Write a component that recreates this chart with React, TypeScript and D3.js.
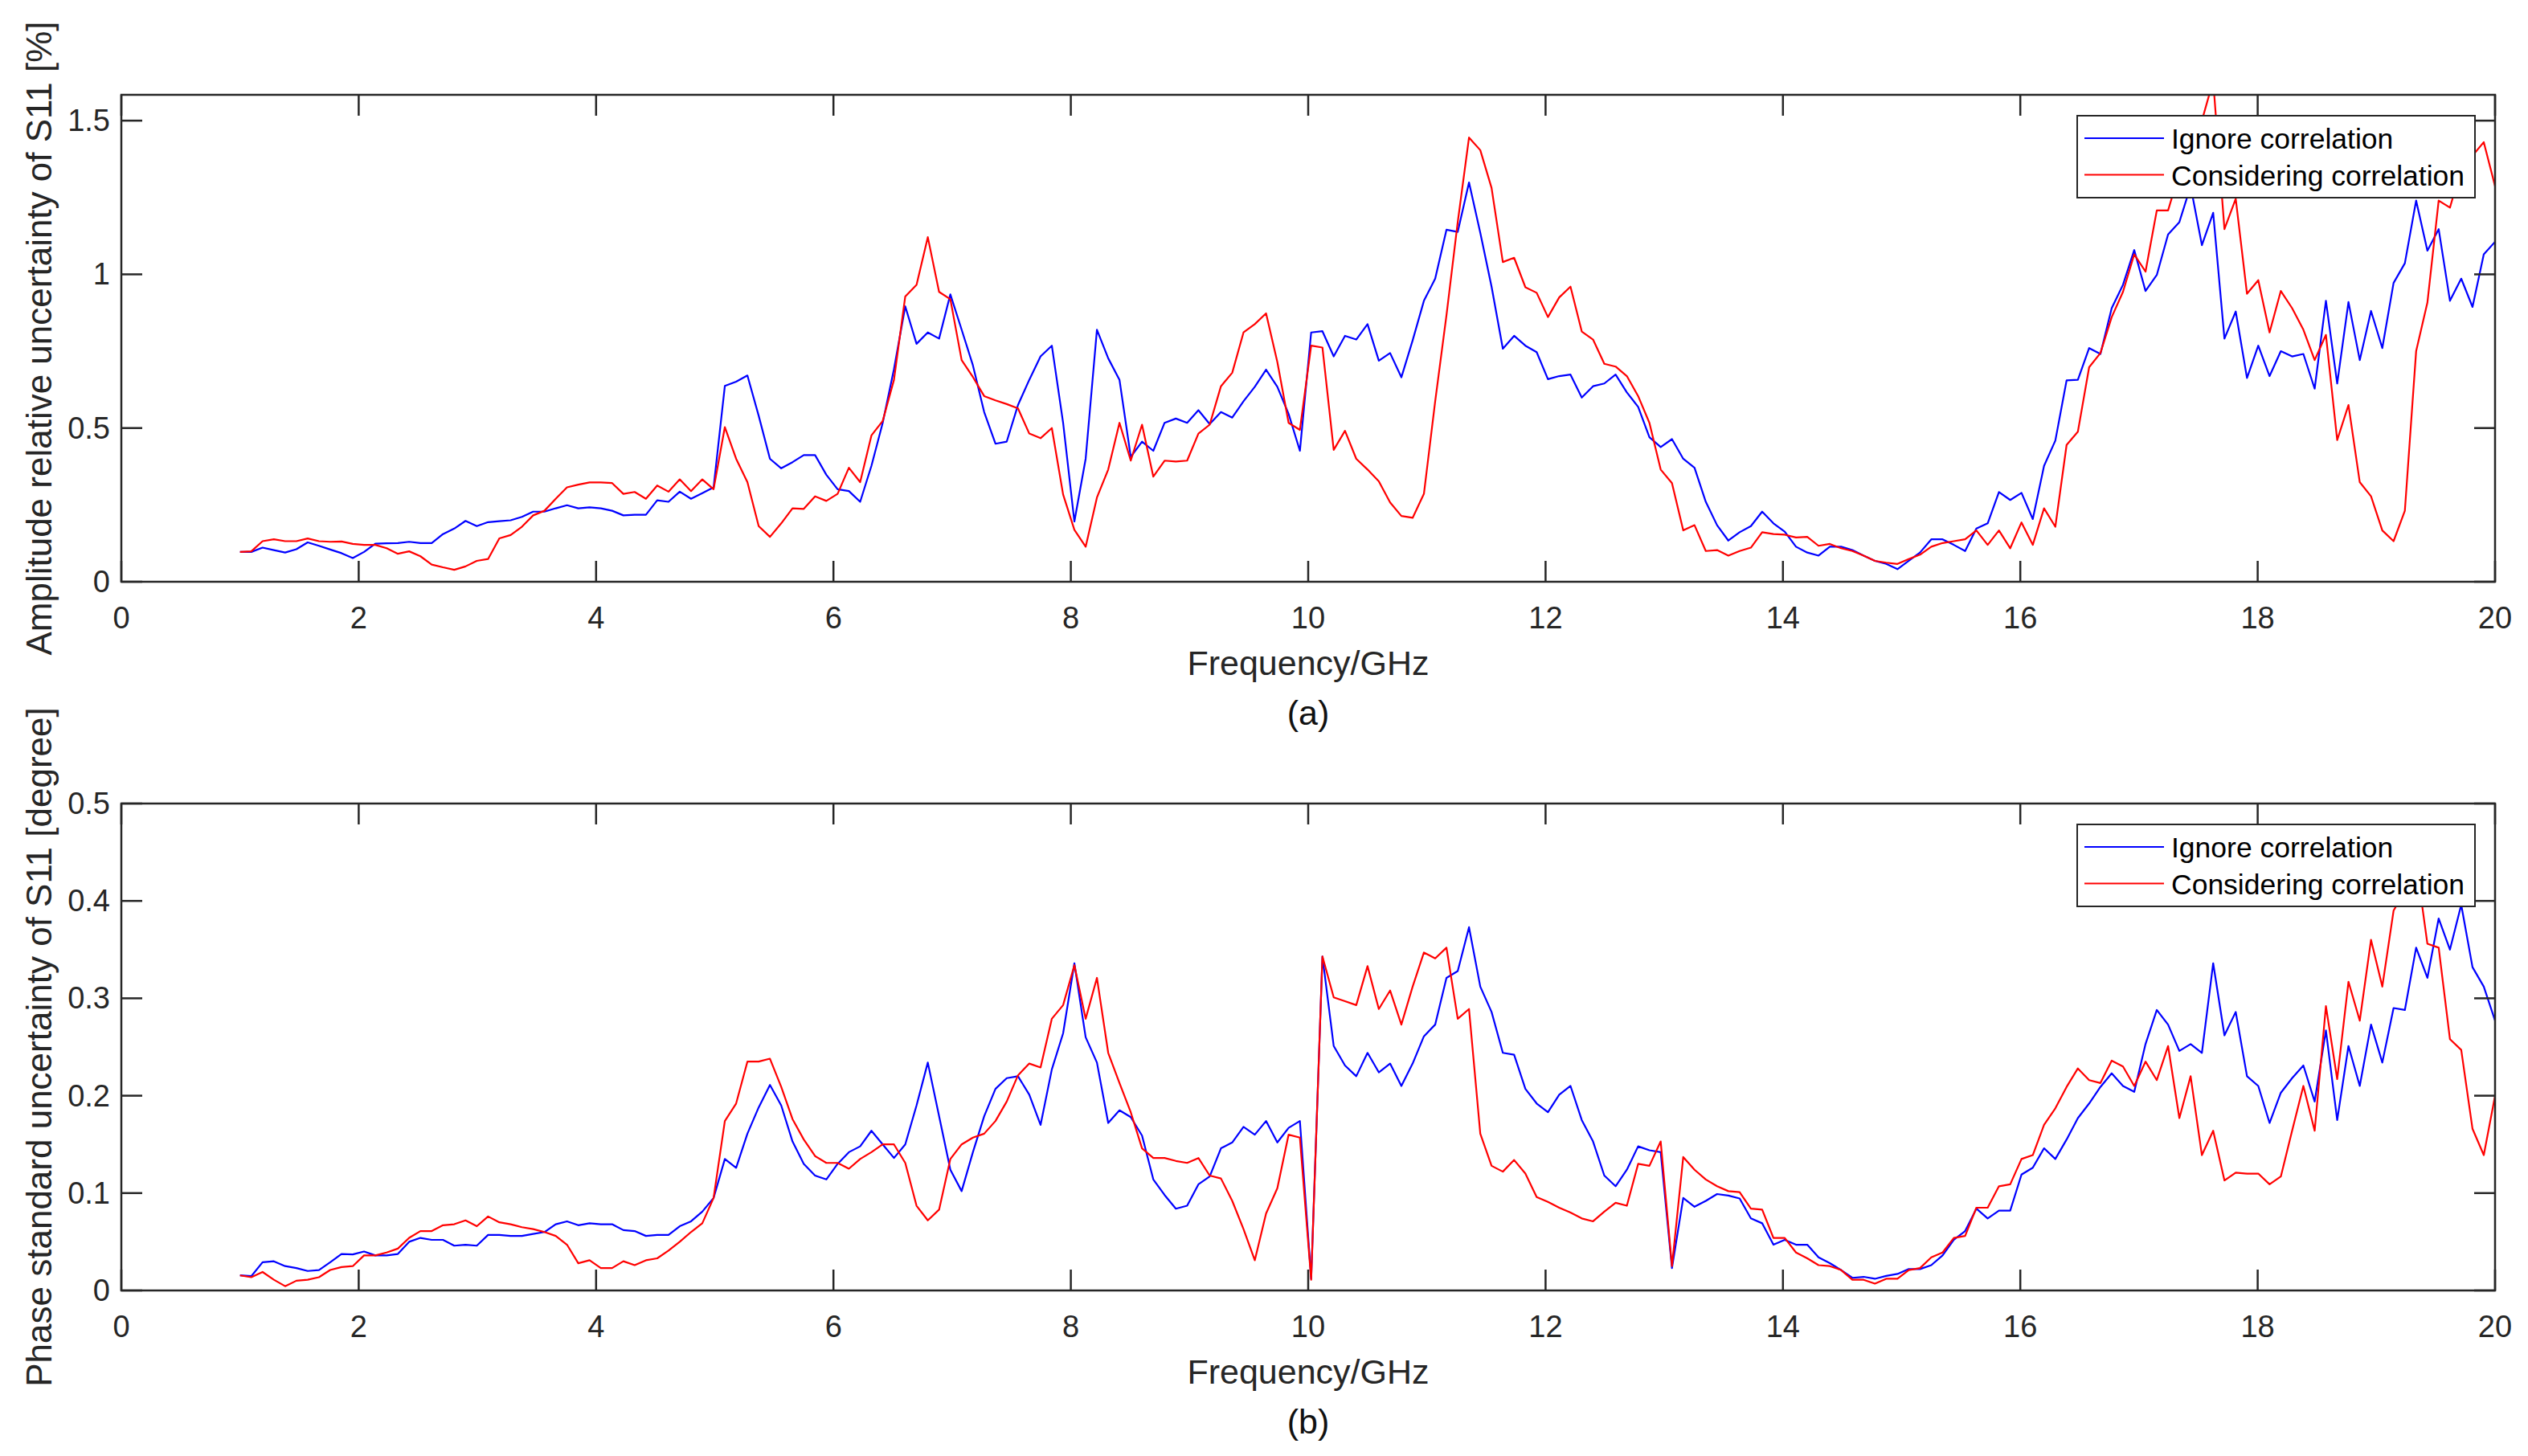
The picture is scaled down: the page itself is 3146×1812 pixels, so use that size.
// @ts-nocheck
import * as d3 from "d3"
import { useEffect, useRef } from "react"
import * as React from "react"

// frequency sweep: 201 points from 1 to 20 GHz
const freq = d3.range(201).map(i => 1 + i * 0.095)

const xTicks = [0, 2, 4, 6, 8, 10, 12, 14, 16, 18, 20]
const ampTicks = [0, 0.5, 1, 1.5]
const phaseTicks = [0, 0.1, 0.2, 0.3, 0.4, 0.5]
const legendNames = ["Ignore correlation", "Considering correlation"]

// (a) amplitude relative uncertainty of S11 [%]
const ampIgnore = [
  .097, .097, .111, .103, .095, .106, .128, .117, .105, .093,
  .077, .097, .124, .125, .126, .13, .126, .126, .155, .173,
  .198, .181, .194, .197, .2, .211, .228, .228, .239, .249,
  .239, .242, .239, .231, .216, .218, .218, .265, .26, .293,
  .27, .288, .307, .637, .651, .671, .54, .40, .369, .389,
  .412, .412, .348, .301, .295, .26, .377, .517, .692, .896,
  .774, .811, .791, .935, .82, .704, .552, .449, .456, .575,
  .657, .733, .768, .517, .196, .40, .82, .727, .657, .406,
  .456, .426, .517, .531, .517, .558, .513, .552, .534, .587,
  .634, .69, .634, .546, .426, .811, .815, .733, .80, .788,
  .838, .719, .744, .665, .785, .914, .986, 1.145, 1.138, 1.299,
  1.135, .96, .758, .80, .768, .747, .659, .669, .674, .599,
  .636, .645, .674, .616, .569, .47, .438, .464, .40, .371,
  .26, .184, .134, .161, .181, .228, .19, .163, .114, .095,
  .085, .114, .114, .103, .085, .068, .058, .041, .068, .095,
  .138, .138, .12, .10, .173, .19, .292, .266, .289, .204,
  .377, .459, .655, .657, .76, .741, .89, .966, 1.079, .946,
  .998, 1.13, 1.17, 1.287, 1.095, 1.2, .791, .879, .663, .768,
  .669, .75, .733, .741, .628, .914, .645, .91, .721, .881,
  .76, .972, 1.036, 1.24, 1.077, 1.147, .914, .986, .894, 1.065, 1.106
]
const ampConsider = [
  .097, .099, .132, .138, .132, .132, .141, .132, .13, .131,
  .123, .12, .12, .109, .091, .099, .083, .056, .047, .039,
  .05, .068, .074, .141, .152, .179, .216, .231, .27, .307,
  .316, .323, .323, .321, .286, .292, .27, .313, .293, .333,
  .295, .333, .301, .503, .40, .324, .181, .146, .19, .239,
  .237, .278, .263, .286, .371, .324, .476, .523, .657, .928,
  .966, 1.121, .943, .919, .721, .666, .604, .59, .578, .564,
  .482, .467, .50, .284, .169, .114, .274, .365, .517, .394,
  .511, .342, .394, .391, .394, .482, .511, .636, .68, .811,
  .838, .873, .715, .517, .494, .768, .762, .429, .491, .40,
  .365, .327, .258, .214, .208, .286, .587, .867, 1.17, 1.445,
  1.404, 1.281, 1.04, 1.054, .958, .94, .861, .925, .96, .814,
  .788, .709, .70, .669, .604, .517, .365, .321, .167, .184,
  .10, .103, .085, .10, .111, .161, .155, .153, .144, .146,
  .117, .123, .109, .10, .085, .068, .062, .058, .074, .088,
  .114, .126, .132, .138, .167, .12, .167, .109, .193, .12,
  .239, .179, .445, .488, .698, .744, .861, .943, 1.065, 1.009,
  1.208, 1.208, 1.33, 1.42, 1.50, 1.63, 1.147, 1.246, .937, .981,
  .811, .946, .89, .82, .721, .803, .461, .575, .324, .278,
  .167, .132, .231, .75, .908, 1.24, 1.217, 1.345, 1.386, 1.43, 1.287
]

// (b) phase standard uncertainty of S11 [degree]
const phaseIgnore = [
  .0155, .0147, .029, .03, .025, .023, .02, .021, .029, .0375,
  .037, .04, .036, .036, .0375, .05, .054, .052, .052, .046,
  .047, .046, .057, .057, .056, .056, .058, .06, .068, .071,
  .067, .069, .068, .068, .062, .061, .056, .057, .057, .066,
  .071, .081, .095, .135, .126, .161, .188, .211, .19, .153,
  .13, .118, .114, .13, .142, .148, .164, .15, .136, .15,
  .19, .234, .179, .124, .102, .142, .179, .207, .218, .22,
  .201, .17, .227, .264, .336, .26, .234, .172, .185, .178,
  .159, .114, .098, .084, .087, .109, .117, .146, .152, .168,
  .16, .174, .152, .167, .174, .012, .343, .251, .231, .22,
  .244, .224, .233, .21, .233, .261, .273, .321, .328, .373,
  .312, .286, .244, .242, .207, .192, .183, .201, .21, .175,
  .153, .118, .107, .124, .148, .144, .142, .023, .095, .086,
  .092, .099, .0975, .0945, .074, .069, .047, .052, .047, .047,
  .034, .028, .021, .013, .014, .012, .015, .017, .022, .022,
  .026, .036, .052, .061, .084, .074, .082, .082, .119, .126,
  .146, .135, .155, .177, .192, .209, .223, .21, .204, .253,
  .288, .273, .246, .253, .244, .336, .262, .286, .22, .21,
  .172, .203, .218, .231, .194, .267, .175, .251, .21, .273,
  .234, .29, .288, .352, .321, .382, .35, .396, .332, .312, .277
]
const phaseConsider = [
  .0155, .0136, .019, .011, .0044, .01, .011, .0136, .021, .024,
  .025, .036, .036, .039, .043, .054, .061, .061, .067, .068,
  .072, .066, .076, .07, .068, .065, .063, .06, .056, .047,
  .028, .031, .023, .023, .03, .026, .031, .033, .041, .05,
  .06, .069, .095, .174, .192, .235, .235, .238, .209, .176,
  .155, .138, .131, .131, .125, .135, .142, .15, .15, .131,
  .087, .072, .083, .135, .15, .157, .161, .174, .194, .221,
  .233, .229, .279, .293, .334, .279, .321, .244, .213, .183,
  .146, .136, .136, .133, .131, .136, .118, .115, .092, .063,
  .031, .079, .105, .16, .157, .011, .343, .301, .297, .293,
  .333, .289, .308, .273, .312, .347, .341, .352, .279, .289,
  .161, .128, .122, .134, .12, .096, .091, .085, .08, .074,
  .071, .081, .09, .087, .13, .128, .153, .025, .137, .124,
  .114, .107, .102, .101, .084, .083, .054, .054, .039, .033,
  .026, .025, .021, .011, .011, .007, .012, .012, .021, .023,
  .034, .039, .054, .056, .085, .085, .107, .109, .135, .139,
  .17, .187, .209, .228, .216, .213, .236, .23, .21, .235,
  .216, .251, .177, .22, .139, .164, .113, .121, .12, .12,
  .109, .117, .164, .21, .164, .292, .217, .317, .277, .36,
  .312, .39, .41, .44, .356, .352, .258, .247, .166, .139, .20
]

const W = 3146
const H = 1812
const plotLeft = 151
const plotRight = 3105
const axisColor = "#262626"
const font = "'Liberation Sans', Arial, Helvetica, sans-serif"
const seriesColors = ["#0000ff", "#ff0000"]

function drawPanel(svg, p) {
  const x = d3.scaleLinear().domain([0, 20]).range([plotLeft, plotRight])
  const y = d3.scaleLinear().domain(p.yDomain).range([p.bottom, p.top])
  const g = svg.append("g")

  g.append("clipPath").attr("id", p.id)
    .append("rect")
    .attr("x", plotLeft).attr("y", p.top)
    .attr("width", plotRight - plotLeft).attr("height", p.bottom - p.top)

  const line = d3.line().x((d, i) => x(freq[i])).y(d => y(d))
  const lines = g.append("g").attr("clip-path", `url(#${p.id})`)
  ;[p.ignore, p.consider].forEach((s, i) => {
    lines.append("path")
      .attr("d", line(s))
      .attr("fill", "none")
      .attr("stroke", seriesColors[i])
      .attr("stroke-width", 2.2)
      .attr("stroke-linejoin", "round")
  })

  // box + inward ticks on every side
  g.append("rect")
    .attr("x", plotLeft).attr("y", p.top)
    .attr("width", plotRight - plotLeft).attr("height", p.bottom - p.top)
    .attr("fill", "none").attr("stroke", axisColor).attr("stroke-width", 2.5)

  const tl = 26
  xTicks.forEach(t => {
    g.append("line").attr("x1", x(t)).attr("x2", x(t)).attr("y1", p.bottom).attr("y2", p.bottom - tl)
      .attr("stroke", axisColor).attr("stroke-width", 2.5)
    g.append("line").attr("x1", x(t)).attr("x2", x(t)).attr("y1", p.top).attr("y2", p.top + tl)
      .attr("stroke", axisColor).attr("stroke-width", 2.5)
    g.append("text").attr("x", x(t)).attr("y", p.bottom + 58)
      .attr("text-anchor", "middle").attr("font-size", 38).attr("fill", axisColor)
      .attr("font-family", font).text(t)
  })
  p.yTicks.forEach(t => {
    g.append("line").attr("x1", plotLeft).attr("x2", plotLeft + tl).attr("y1", y(t)).attr("y2", y(t))
      .attr("stroke", axisColor).attr("stroke-width", 2.5)
    g.append("line").attr("x1", plotRight).attr("x2", plotRight - tl).attr("y1", y(t)).attr("y2", y(t))
      .attr("stroke", axisColor).attr("stroke-width", 2.5)
    g.append("text").attr("x", plotLeft - 14).attr("y", y(t))
      .attr("dominant-baseline", "central")
      .attr("text-anchor", "end").attr("font-size", 38).attr("fill", axisColor)
      .attr("font-family", font).text(t)
  })

  const midY = (p.top + p.bottom) / 2
  g.append("text")
    .attr("transform", `translate(64,${midY}) rotate(-90)`)
    .attr("text-anchor", "middle").attr("font-size", 44).attr("fill", axisColor)
    .attr("font-family", font).text(p.yLabel)
  g.append("text").attr("x", 1628).attr("y", p.bottom + 116)
    .attr("text-anchor", "middle").attr("font-size", 43).attr("fill", axisColor)
    .attr("font-family", font).text("Frequency/GHz")
  g.append("text").attr("x", 1628).attr("y", p.bottom + 178)
    .attr("text-anchor", "middle").attr("font-size", 43).attr("fill", "#111")
    .attr("font-family", font).text(p.caption)

  // legend
  const lx = 2585
  const ly = p.top + 26
  const lg = g.append("g")
  lg.append("rect").attr("x", lx).attr("y", ly).attr("width", 495).attr("height", 102)
    .attr("fill", "#fff").attr("stroke", axisColor).attr("stroke-width", 2)
  legendNames.forEach((name, i) => {
    const yy = ly + 28 + i * 45.5
    lg.append("line").attr("x1", lx + 9).attr("x2", lx + 108).attr("y1", yy).attr("y2", yy)
      .attr("stroke", seriesColors[i]).attr("stroke-width", 2.2)
    lg.append("text").attr("x", lx + 117).attr("y", yy + 13)
      .attr("font-size", 35.5).attr("fill", "#000").attr("font-family", font).text(name)
  })
}

function buildSVG(node) {
  const svg = d3.select(node)
  svg.selectAll("*").remove()
  drawPanel(svg, {
    id: "clipA", top: 118, bottom: 724, yDomain: [0, 1.584], yTicks: ampTicks,
    ignore: ampIgnore, consider: ampConsider,
    yLabel: "Amplitude relative uncertainty of S11 [%]", caption: "(a)"
  })
  drawPanel(svg, {
    id: "clipB", top: 1000, bottom: 1606, yDomain: [0, 0.5], yTicks: phaseTicks,
    ignore: phaseIgnore, consider: phaseConsider,
    yLabel: "Phase standard uncertainty of S11 [degree]", caption: "(b)"
  })
}

export default function App() {
  const ref = useRef(null)
  useEffect(() => {
    buildSVG(ref.current)
  }, [])
  return (
    <svg ref={ref} width={W} height={H}
      style={{ position: "absolute", left: 0, top: 0, background: "#fff", display: "block" }} />
  )
}
